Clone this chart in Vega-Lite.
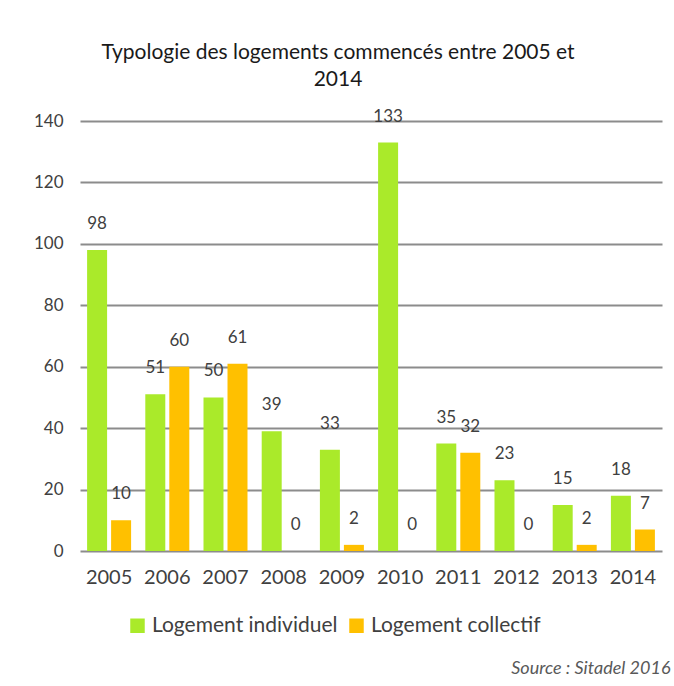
{
  "$schema": "https://vega.github.io/schema/vega-lite/v6.json",
  "autosize": "none",
  "width": 582,
  "height": 430,
  "padding": {"left": 80, "top": 121, "right": 12, "bottom": 135},
  "background": "white",
  "title": {
    "text": ["Typologie des logements commencés entre 2005 et", "2014"],
    "anchor": "middle",
    "frame": "group",
    "dx": -33,
    "fontSize": 21,
    "fontWeight": "normal",
    "color": "#1a1a1a",
    "lineHeight": 27,
    "offset": 18
  },
  "data": {
    "values": [
      {"annee": "2005", "type": "Logement individuel", "n": 98},
      {"annee": "2005", "type": "Logement collectif", "n": 10},
      {"annee": "2006", "type": "Logement individuel", "n": 51},
      {"annee": "2006", "type": "Logement collectif", "n": 60},
      {"annee": "2007", "type": "Logement individuel", "n": 50},
      {"annee": "2007", "type": "Logement collectif", "n": 61},
      {"annee": "2008", "type": "Logement individuel", "n": 39},
      {"annee": "2008", "type": "Logement collectif", "n": 0},
      {"annee": "2009", "type": "Logement individuel", "n": 33},
      {"annee": "2009", "type": "Logement collectif", "n": 2},
      {"annee": "2010", "type": "Logement individuel", "n": 133},
      {"annee": "2010", "type": "Logement collectif", "n": 0},
      {"annee": "2011", "type": "Logement individuel", "n": 35},
      {"annee": "2011", "type": "Logement collectif", "n": 32},
      {"annee": "2012", "type": "Logement individuel", "n": 23},
      {"annee": "2012", "type": "Logement collectif", "n": 0},
      {"annee": "2013", "type": "Logement individuel", "n": 15},
      {"annee": "2013", "type": "Logement collectif", "n": 2},
      {"annee": "2014", "type": "Logement individuel", "n": 18},
      {"annee": "2014", "type": "Logement collectif", "n": 7}
    ]
  },
  "encoding": {
    "x": {
      "field": "annee",
      "type": "nominal",
      "scale": {"paddingInner": 0.244, "paddingOuter": 0.122},
      "axis": {
        "title": "Source : Sitadel 2016",
        "titleAnchor": "end",
        "titleAlign": "right",
        "titleX": 590,
        "titleY": 122,
        "titleBaseline": "alphabetic",
        "titleFontStyle": "italic",
        "titleFontWeight": "normal",
        "titleFontSize": 18,
        "titleColor": "#595959",
        "labelAngle": 0,
        "labelFontSize": 20,
        "labelColor": "#404040",
        "labelPadding": 16,
        "domain": false,
        "ticks": false
      }
    },
    "xOffset": {
      "field": "type",
      "type": "nominal",
      "sort": ["Logement individuel", "Logement collectif"],
      "scale": {"paddingInner": 0.167, "paddingOuter": 0}
    },
    "y": {
      "field": "n",
      "type": "quantitative",
      "scale": {"domain": [0, 140]},
      "axis": {
        "title": null,
        "values": [0, 20, 40, 60, 80, 100, 120, 140],
        "domain": false,
        "ticks": false,
        "grid": true,
        "gridColor": "#8c8c8c",
        "gridWidth": 2,
        "labelFontSize": 17,
        "labelColor": "#404040",
        "labelPadding": 17
      }
    }
  },
  "layer": [
    {
      "mark": {"type": "bar"},
      "encoding": {
        "color": {
          "field": "type",
          "type": "nominal",
          "sort": ["Logement individuel", "Logement collectif"],
          "scale": {
            "domain": ["Logement individuel", "Logement collectif"],
            "range": ["#aaea2a", "#ffc000"]
          },
          "legend": {
            "title": null,
            "orient": "none",
            "legendX": 47,
            "legendY": 494,
            "direction": "horizontal",
            "columns": 2,
            "columnPadding": 8,
            "symbolType": "square",
            "symbolSize": 210,
            "symbolStrokeWidth": 0,
            "labelFontSize": 21,
            "labelLimit": 400,
            "labelColor": "#404040",
            "labelOffset": 4
          }
        }
      }
    },
    {
      "mark": {"type": "text", "baseline": "alphabetic", "dy": -21, "fontSize": 17, "color": "#404040"},
      "encoding": {
        "text": {"field": "n", "type": "quantitative"}
      }
    }
  ],
  "config": {
    "font": "Lato",
    "view": {"stroke": null}
  }
}
